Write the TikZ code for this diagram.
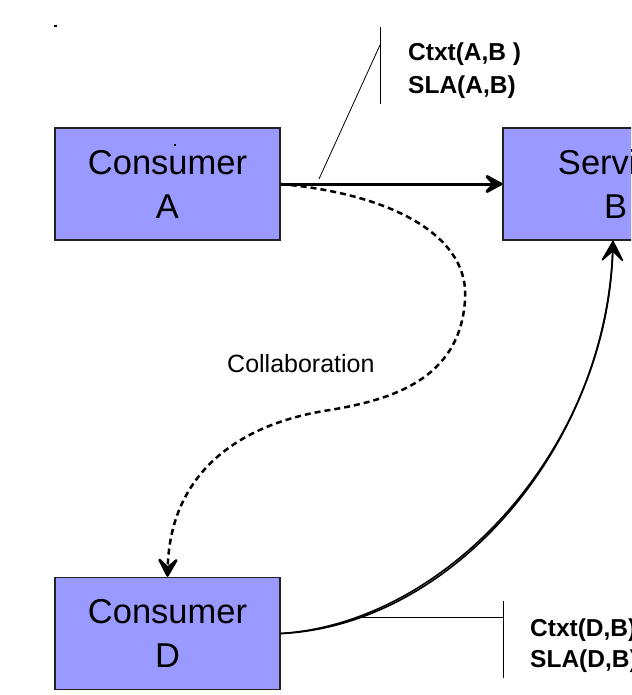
\documentclass[tikz,border=0pt]{standalone}
\usepackage{fontspec}
\setmainfont{Liberation Sans}
\usetikzlibrary{arrows.meta}
\definecolor{boxfill}{HTML}{9999FF}
\definecolor{boxline}{HTML}{222222}
\tikzset{
  party/.style={draw=boxline, line width=1.5pt, fill=boxfill, minimum width=225pt,
    minimum height=112pt, inner sep=0pt, align=center,
    font=\fontsize{34.5}{44}\selectfont},
  chevron/.style={-{Stealth[length=24pt,width=26pt,inset=12pt,round]}},
  lbl/.style={anchor=base west, inner sep=0pt, font=\fontsize{24.5}{28}\bfseries},
  callout/.style={line width=0.8pt},
}
\begin{document}
\begin{tikzpicture}[x=1pt,y=-1pt]
\useasboundingbox (0,0) rectangle (631,695);
\clip (0,0) rectangle (631,695);

% parties
\node[party] (a) at (167.5,184) {Consumer\\A};
\node[party] (b) at (615.5,184) {Service\\B};
\node[party] (d) at (167.5,633.5) {Consumer\\D};

% direct service call A -> B
\draw[chevron, line width=3pt] (a.east) -- (b.west);

% collaboration between the consumers
\coordinate (c1) at (465,300);
\coordinate (c2) at (330,410);
\draw[chevron, dash pattern=on 6pt off 4pt, line width=2.5pt]
  (a.east) .. controls (400,195) and (470,240) .. (c1)
  .. controls (460,380) and (390,400) .. (c2)
  .. controls (230,425) and (170,480) .. (d.north);
\node[anchor=base west, inner sep=0pt, font=\fontsize{25}{28}\selectfont]
  (collab) at (227,372) {Collaboration};

% service call D -> B (sketched twice)
\coordinate (bin) at ([xshift=-2.5pt]b.south);
\draw[line width=1.6pt] (d.east) .. controls (452,626) and (610,445) .. (bin);
\draw[chevron, line width=1.6pt] (d.east) .. controls (447,623) and (607,448) .. (bin);

% context / SLA annotation for A,B
\coordinate (ta) at (380,27);
\coordinate (ba) at (380,104);
\coordinate (ka) at (380,45);
\coordinate (pa) at (319,179);
\draw[callout] (ta) -- (ba);
\draw[callout] (ka) -- (pa);
\node[lbl] (ctxab) at (408,61) {Ctxt(A,B )};
\node[lbl] (slaab) at (408,94) {SLA(A,B)};

% context / SLA annotation for D,B
\coordinate (td) at (503,601);
\coordinate (bd) at (503,678);
\coordinate (kd) at (503,617);
\coordinate (pd) at (360,617);
\draw[callout] (td) -- (bd);
\draw[callout] (kd) -- (pd);
\node[lbl] (ctxdb) at (530,636) {Ctxt(D,B)};
\node[lbl] (sladb) at (530,667) {SLA(D,B)};

% stray marks
\fill (54,25.5) rectangle (57,27);
\fill (174,144) rectangle (176,146);
\end{tikzpicture}
\end{document}
